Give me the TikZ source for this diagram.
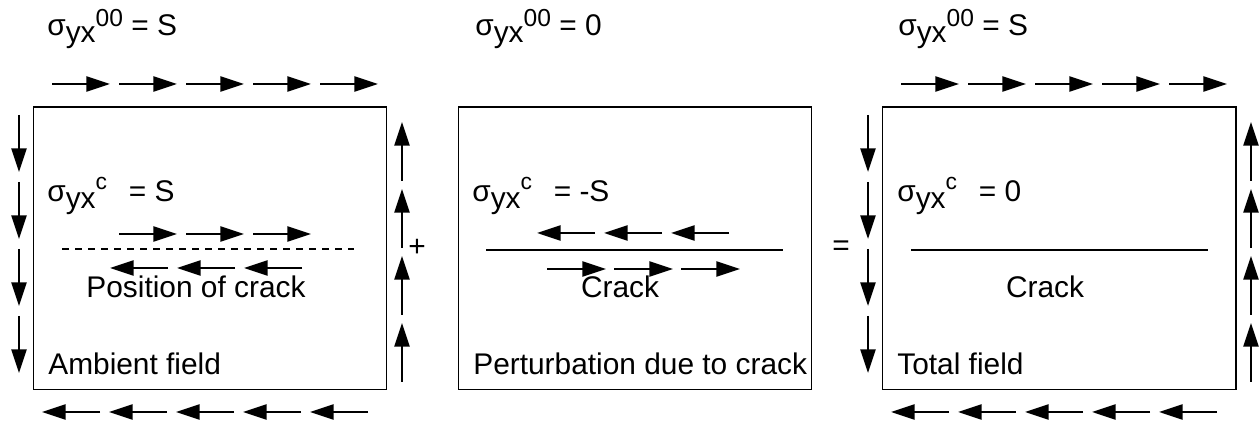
\documentclass[tikz,border=0pt]{standalone}
\usepackage{fontspec}
\setmainfont{Liberation Sans}
\usetikzlibrary{arrows.meta, positioning}

\newcommand{\syx}[3]{σ\raisebox{-.23em}{yx}\raisebox{#2}{\fontsize{#3}{#3}\selectfont #1}}

\begin{document}
\begin{tikzpicture}[
  x=0.02cm, y=-0.02cm,
  font=\fontsize{17}{20}\selectfont,
  box/.style={draw, line width=0.6pt, minimum width=7.08cm, minimum height=5.66cm, inner sep=0pt},
  lbl/.style={inner sep=0pt, anchor=base west},
  arrow/.style={line width=1.5pt, -{Triangle[length=13.5pt, width=8.5pt]}},
  crack/.style={line width=1pt}
]
\useasboundingbox (0,0) rectangle (1259,421);

% Boxes
\node[box] (amb) at (210,248.5) {};
\node[box] (pert) at (635,248.5) {};
\node[box] (tot) at (1059,248.5) {};

% Nodes
\node[lbl] (s1) at (47,36) {\syx{00}{.33em}{14} = S};
\node[lbl] (s2) at (475,36) {\syx{00}{.33em}{14} = 0};
\node[lbl] (s3) at (898,36) {\syx{00}{.33em}{14} = S};
\node[lbl] (c1) at (47,202) {\syx{c}{.42em}{13}\hspace{.45em} = S};
\node[lbl] (c2) at (472,202) {\syx{c}{.42em}{13}\hspace{.45em} = -S};
\node[lbl] (c3) at (897,202) {\syx{c}{.42em}{13}\hspace{.45em} = 0};
\node[inner sep=0pt, anchor=base] (pos) at (196,298) {Position of crack};
\node[inner sep=0pt, anchor=base] (crk2) at (620,298) {Crack};
\node[inner sep=0pt, anchor=base] (crk3) at (1045,298) {Crack};
\node[lbl] (n1) at (48,375) {Ambient field};
\node[lbl] (n2) at (473,375) {Perturbation due to crack};
\node[lbl] (n3) at (897,375) {Total field};
\node (plus) at (417,248) {+};
\node (eq) at (841,248) {=};

% Pointers
\foreach \dx in {0,849} {
  \foreach \i in {0,...,4} {
    \draw[arrow] (52+\dx+67*\i,84) -- (110+\dx+67*\i,84);
    \draw[arrow] (100+\dx+67*\i,412) -- (42+\dx+67*\i,412);
  }
  \foreach \i in {0,...,3} {
    \draw[arrow] (19+\dx,115+67*\i) -- (19+\dx,172+67*\i);
    \draw[arrow] (402+\dx,382-67*\i) -- (402+\dx,323-67*\i);
  }
}
\foreach \i in {0,1,2} {
  \draw[arrow] (119+67*\i,234) -- (177+67*\i,234);
  \draw[arrow] (168+67*\i,268) -- (110+67*\i,268);
  \draw[arrow] (595+67*\i,233) -- (537+67*\i,233);
  \draw[arrow] (547+67*\i,269) -- (606+67*\i,269);
}

% Cracks
\draw[crack, dash pattern=on 4pt off 3.4pt] (62,249) -- (354,249);
\draw[crack] (486,250) -- (783,250);
\draw[crack] (911,250) -- (1208,250);
\end{tikzpicture}
\end{document}
